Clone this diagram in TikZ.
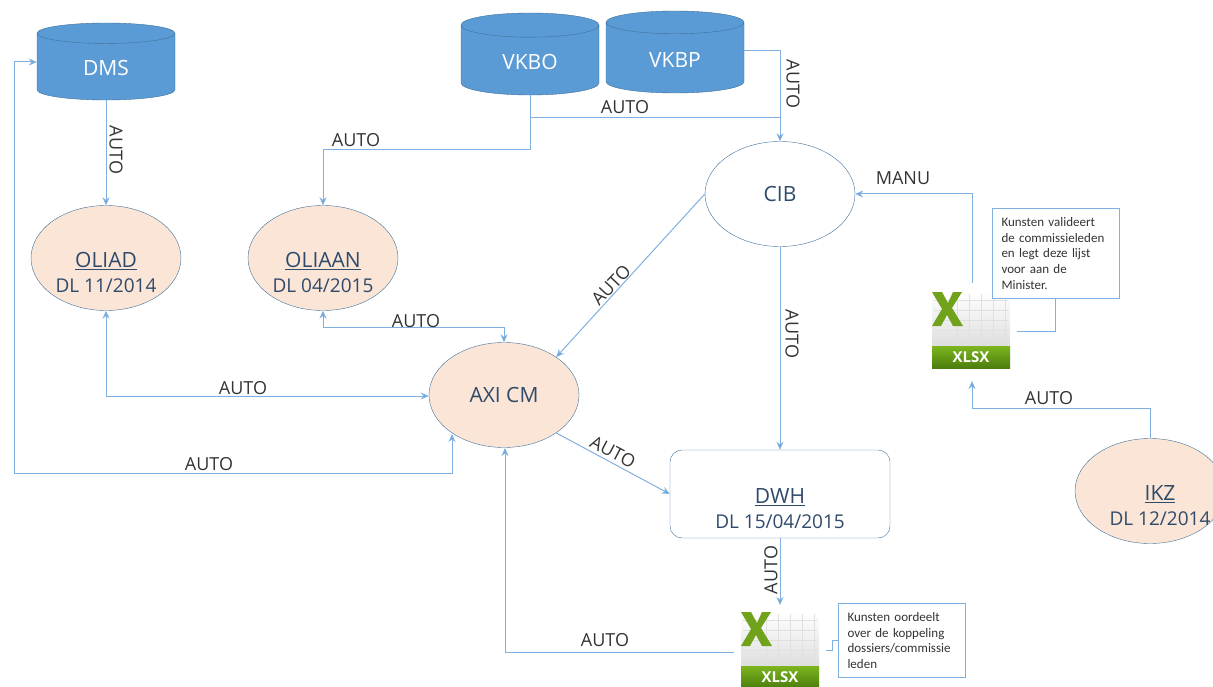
\documentclass[tikz,border=0pt]{standalone}
\usepackage{fontspec}
\setmainfont{Open Sans}
\newfontfamily\notefont{Carlito}
\usetikzlibrary{arrows.meta, shapes.geometric}
\definecolor{linkblue}{HTML}{7FB0DF}
\definecolor{dbblue}{HTML}{5B9BD5}
\definecolor{edgeblue}{HTML}{41719C}
\definecolor{peach}{HTML}{FBE5D6}
\definecolor{inkblue}{HTML}{2F4A6B}
\definecolor{xlgreen}{HTML}{5F9E12}
\definecolor{xllime}{HTML}{7DB51E}
\newcommand{\duedate}[3][]{\rule{0pt}{44pt}#1{\fontsize{21}{24}\selectfont\underline{#2}}\\[3pt]#1#3}
\tikzset{
    link/.style = {draw=linkblue, line width=1pt},
    oneway/.style = {link, -{Stealth[length=8pt, width=7pt, fill=dbblue]}},
    bothway/.style = {link, {Stealth[length=8pt, width=7pt, fill=dbblue]}-{Stealth[length=8pt, width=7pt, fill=dbblue]}},
    autolabel/.style = {font=\fontsize{18}{20}\selectfont, text=black!80, inner sep=0pt},
    db/.style = {cylinder, shape border rotate=90, aspect=0.39, draw=edgeblue, fill=dbblue, anchor=shape center,
        text=white, minimum width=138pt, font=\fontsize{21}{24}\selectfont},
    source/.style = {ellipse, draw=edgeblue, fill=peach, minimum width=150pt, minimum height=105pt,
        inner xsep=0pt, inner ysep=-6pt, align=center, text=inkblue, font=\fontsize{19}{22}\selectfont},
    note/.style = {rectangle, draw=linkblue, line width=1pt, fill=white, anchor=north west, align=left,
        inner xsep=9pt, inner ysep=0pt, text width=109pt, minimum width=127pt, text=black!80,
        font=\notefont\fontsize{13}{15.7}\selectfont},
    xlsxfile/.pic = {
        \shade[top color=white, bottom color=black!18, rounded corners=2pt] (-39,-38) rectangle (39,38);
        \foreach \gx in {-14,-2,10,22,34} \draw[black!12, line width=.8pt] (\gx,-36) -- (\gx,16);
        \foreach \gy in {-30,-20,-10,0,10} \draw[black!12, line width=.8pt] (-37,\gy) -- (37,\gy);
        \shade[top color=xllime, bottom color=xlgreen!80!black] (-39,16) rectangle (39,38);
        \fill[xllime!90!black] (-39,-38) -- (-29,-38) -- (-23,-27) -- (-18,-38) -- (-9,-38) -- (-19,-22)
            -- (-8,-4) -- (-18,-4) -- (-24,-15) -- (-30,-4) -- (-39,-4) -- (-29,-21) -- cycle;
        \node[text=white, font=\fontsize{15}{17}\selectfont\bfseries] at (0,27) {XLSX};
    }
}
\begin{document}
\begin{tikzpicture}[x=1pt, y=-1pt]
    \clip (0,0) rectangle (1213,687);

    % databases
    \node[db, minimum height=77pt] (dms) at (106,61.5) {\raisebox{-4pt}{DMS}};
    \node[db, minimum height=82pt] (vkbo) at (530,54) {VKBO};
    \node[db, minimum height=82pt] (vkbp) at (675,52) {VKBP};

    % systems
    \node[source] (oliad) at (106,258) {\duedate{OLIAD}{DL 11/2014}};
    \node[source] (oliaan) at (323,258) {\duedate{OLIAAN}{DL 04/2015}};
    \node[source, font=\fontsize{21}{24}\selectfont] (axi) at (504,395) {AXI CM};
    \node[source, fill=white, font=\fontsize{21}{24}\selectfont] (cib) at (780,194) {CIB};
    \node[source, inner xsep=-20pt] (ikz) at (1150,491) {\duedate[\hspace*{20pt}]{IKZ}{DL 12/2014}};
    \node[source, rectangle, rounded corners=12pt, fill=white, minimum width=220pt, minimum height=88pt] (dwh)
        at (780,494) {\duedate{DWH}{DL 15/04/2015}};

    % files
    \node[minimum width=78pt, minimum height=76pt, inner sep=0pt] (xlsa) at (971,330) {};
    \pic at (xlsa.center) {xlsxfile};
    \node[minimum width=78pt, minimum height=76pt, inner sep=0pt] (xlsb) at (780,650) {};
    \pic at (xlsb.center) {xlsxfile};

    % notes
    \node[note, minimum height=90pt] (notea) at (992,208)
        {Kunsten valideert\\de commissieleden\\en legt deze lijst\\voor aan de\\Minister.};
    \node[note, minimum height=74pt] (noteb) at (838,603)
        {Kunsten oordeelt\\over de koppeling\\dossiers/commissie\\leden};

    % bends
    \coordinate (vkbosplit) at (530,118);
    \coordinate (vkbojoin) at (780,118);
    \coordinate (vkbobend) at (530,150);
    \coordinate (oliaanbend) at (323,150);
    \coordinate (vkbpbend) at (780,51);
    \coordinate (mailbend) at (972,194);
    \coordinate (ikzbend) at (1150,408);
    \coordinate (xlsabelow) at (972,381);
    \coordinate (xlsatop) at (972,283);
    \coordinate (xlsaright) at (1017,331);
    \coordinate (noteabend) at (1055,331);
    \coordinate (oliaanlow) at (323,327);
    \coordinate (axitop) at (504,327);
    \coordinate (oliadlow) at (106,396);
    \coordinate (dmsleft) at (14,62);
    \coordinate (dmsdown) at (14,473);
    \coordinate (axilow) at (452,473);
    \coordinate (axientry) at (452,434);
    \coordinate (xlsbleft) at (734,652);
    \coordinate (axireturn) at (505,652);
    \coordinate (axibottom) at (505,448);
    \coordinate (xlsbtop) at (780,605);
    \coordinate (xlsbright) at (826,650);
    \coordinate (notebmid) at (832,650);
    \coordinate (notebout) at (832,640);

    % connectors
    \draw[oneway] (dms.south) -- (oliad.north);
    \draw[oneway] (vkbo.south) -- (vkbobend) -- (oliaanbend) -- (oliaan.north);
    \draw[link] (vkbosplit) -- (vkbojoin);
    \draw[oneway] (vkbp.east |- vkbpbend) -- (vkbpbend) -- (cib.north);
    \draw[oneway] (cib.west) -- (axi.36);
    \draw[oneway] (cib.south) -- (dwh.north);
    \draw[oneway] (xlsatop) -- (mailbend) -- (cib.east);
    \draw[oneway] (ikz.north) -- (ikzbend) -- (ikzbend -| xlsabelow) -- (xlsabelow);
    \draw[bothway] (oliaan.south) -- (oliaanlow) -- (axitop) -- (axi.north);
    \draw[bothway] (oliad.south) -- (oliadlow) -- (axi.west |- oliadlow);
    \draw[bothway] (dms.west |- dmsleft) -- (dmsleft) -- (dmsdown) -- (axilow) -- (axientry);
    \draw[oneway] (axi.-36) -- (dwh.west);
    \draw[oneway] (dwh.south) -- (xlsbtop);
    \draw[oneway] (xlsbleft) -- (axireturn) -- (axibottom);
    \draw[link] (notea.south -| noteabend) -- (noteabend) -- (xlsaright);
    \draw[link] (noteb.west |- notebout) -- (notebout) -- (notebmid) -- (xlsbright);

    % labels
    \node[autolabel, rotate=-90] (autoa) at (116,150) {AUTO};
    \node[autolabel] (autob) at (625,107) {AUTO};
    \node[autolabel, rotate=-90] (autoc) at (793,84) {AUTO};
    \node[autolabel] (autod) at (356,140) {AUTO};
    \node[autolabel] (manu) at (903,178) {MANU};
    \node[autolabel, rotate=47] (autoe) at (611,285) {AUTO};
    \node[autolabel] (autof) at (416,321) {AUTO};
    \node[autolabel] (autog) at (243,388) {AUTO};
    \node[autolabel] (autoh) at (209,464) {AUTO};
    \node[autolabel, rotate=-90] (autoi) at (792,334) {AUTO};
    \node[autolabel, rotate=-28] (autoj) at (613,452) {AUTO};
    \node[autolabel] (autok) at (1049,398) {AUTO};
    \node[autolabel, rotate=90] (autol) at (771,570) {AUTO};
    \node[autolabel] (autom) at (605,640) {AUTO};
\end{tikzpicture}
\end{document}
